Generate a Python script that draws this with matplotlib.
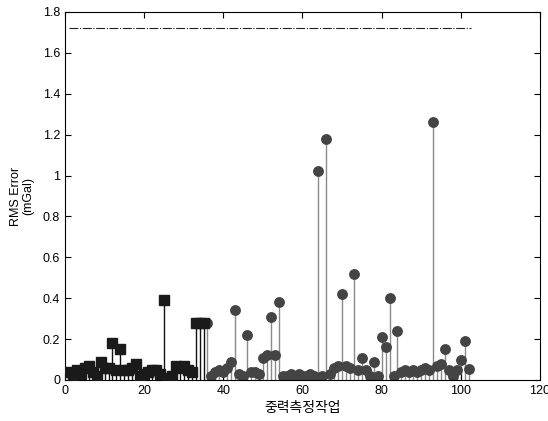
import matplotlib
matplotlib.use("Agg")
import matplotlib.pyplot as plt
import numpy as np

# Square series (jobs 1-35)
sq_x = list(range(1, 36))
sq_y = [0.04, 0.02, 0.05, 0.03, 0.06, 0.07, 0.04, 0.02, 0.09, 0.06,
        0.06, 0.18, 0.05, 0.15, 0.05, 0.05, 0.06, 0.08, 0.02, 0.03,
        0.04, 0.05, 0.05, 0.03, 0.39, 0.01, 0.02, 0.07, 0.06, 0.07,
        0.05, 0.04, 0.28, 0.28, 0.28]

# Circle series (jobs 36-102)
ci_x = list(range(36, 103))
ci_y = [0.28, 0.02, 0.04, 0.05, 0.04, 0.06, 0.09, 0.34, 0.03, 0.02,
        0.22, 0.04, 0.04, 0.03, 0.11, 0.12, 0.31, 0.12, 0.38, 0.02,
        0.02, 0.03, 0.02, 0.03, 0.02, 0.02, 0.03, 0.02, 1.02, 0.02,
        1.18, 0.03, 0.06, 0.07, 0.42, 0.07, 0.06, 0.52, 0.05, 0.11,
        0.05, 0.02, 0.09, 0.02, 0.21, 0.16, 0.40, 0.02, 0.24, 0.04,
        0.05, 0.04, 0.05, 0.04, 0.05, 0.06, 0.05, 1.26, 0.07, 0.08,
        0.15, 0.05, 0.02, 0.05, 0.10, 0.19, 0.055]

# Threshold line
thr_x = [1, 102.5]
thr_y = [1.72, 1.72]

fig = plt.figure(figsize=(5.48, 4.21), dpi=100)
ax = fig.add_axes([0.1186, 0.0974, 0.8668, 0.8741])

ax.vlines(ci_x, 0, ci_y, colors="#8a8a8a", linewidth=1.0, zorder=1)
ax.plot(ci_x, ci_y, linestyle="none", marker="o", markersize=6.8,
        markerfacecolor="#444444", markeredgecolor="#444444", zorder=2)
ax.vlines(sq_x, 0, sq_y, colors="#111111", linewidth=1.0, zorder=3)
ax.plot(sq_x, sq_y, linestyle="none", marker="s", markersize=7.5,
        markerfacecolor="#1a1a1a", markeredgecolor="#1a1a1a", zorder=4)
ax.plot(thr_x, thr_y, color="#222222", linestyle=(0, (8, 1.5, 1, 1.5)),
        linewidth=0.8, zorder=2)

ax.set_xlim(0, 120)
ax.set_ylim(0, 1.8)
ax.set_xticks(np.arange(0, 121, 20))
ax.set_yticks(np.arange(0, 1.81, 0.2))
ax.set_yticklabels(["0", "0.2", "0.4", "0.6", "0.8", "1", "1.2", "1.4", "1.6", "1.8"])
ax.tick_params(direction="in", top=True, right=True, length=4, width=0.8,
               labelsize=9)
for lab in ax.get_xticklabels() + ax.get_yticklabels():
    lab.set_family(["Liberation Sans", "DejaVu Sans"])
for s in ax.spines.values():
    s.set_linewidth(0.8)

ax.set_ylabel("RMS Error\n(mGal)", fontsize=9, family=["Liberation Sans", "DejaVu Sans"],
              labelpad=6, linespacing=1.0)
ax.set_xlabel("중력측정작업", fontsize=10, family=["Noto Sans CJK KR", "DejaVu Sans"],
              labelpad=3)

fig.savefig("out.png", dpi=100)
